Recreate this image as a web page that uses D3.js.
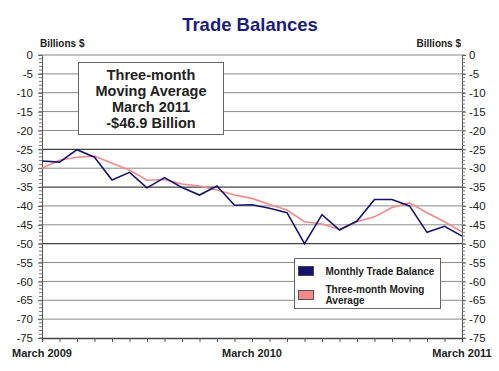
<!DOCTYPE html>
<html>
<head>
<meta charset="utf-8">
<script src="https://cdn.jsdelivr.net/npm/d3@7"></script>
<style>
  body { margin: 0; background: #fff; }
  svg { font-family: "Liberation Sans", Arial, sans-serif; }
</style>
</head>
<body>
<div id="chart"></div>
<script>
// months from March 2009 to March 2011
const months = d3.range(25);
const xLabels = [
  { i: 0, text: 'March 2009' },
  { i: 12, text: 'March 2010' },
  { i: 24, text: 'March 2011' }
];

// billions of dollars
const monthly = [
  -28.1, -28.4, -25.1, -27.1, -33.1, -31.1, -35.2, -32.5, -35.1, -37.1,
  -34.7, -39.8, -39.7, -40.6, -41.8, -50.0, -42.3, -46.4, -44.0, -38.3,
  -38.3, -40.0, -47.0, -45.4, -48.0
];
const movingAvg = [
  -30.0, -27.9, -27.1, -26.8, -28.7, -30.5, -33.2, -33.0, -34.2, -34.7,
  -35.8, -37.1, -38.0, -39.6, -41.1, -44.2, -44.8, -46.2, -44.2, -42.9,
  -40.4, -39.2, -41.8, -44.2, -46.9
];

const yTicks = d3.range(0, -80, -5);
const darkGrid = [-25, -35, -50];

const noteLines = ['Three-month', 'Moving Average', 'March 2011', '-$46.9 Billion'];
const legendItems = [
  { lines: ['Monthly Trade Balance'], color: '#14146e' },
  { lines: ['Three-month Moving', 'Average'], color: '#f28a8a' }
];

const width = 499, height = 371;
const margin = { top: 55, right: 37, bottom: 33, left: 42 };

const svg = d3.select('#chart').append('svg')
  .attr('width', width)
  .attr('height', height);

const x = d3.scaleLinear()
  .domain([0, 24])
  .range([margin.left, width - margin.right]);

const y = d3.scaleLinear()
  .domain([0, -75])
  .range([margin.top, height - margin.bottom]);

// title
svg.append('text')
  .attr('x', 250)
  .attr('y', 31)
  .attr('text-anchor', 'middle')
  .attr('font-size', '18.5px')
  .attr('font-weight', 'bold')
  .attr('fill', '#1c1c7e')
  .text('Trade Balances');

svg.append('text')
  .attr('x', 40).attr('y', 47)
  .attr('font-size', '10px').attr('font-weight', 'bold').attr('fill', '#222')
  .text('Billions $');

svg.append('text')
  .attr('x', 461).attr('y', 47)
  .attr('text-anchor', 'end')
  .attr('font-size', '10px').attr('font-weight', 'bold').attr('fill', '#222')
  .text('Billions $');

// gridlines
svg.append('g')
  .selectAll('line')
  .data(yTicks.filter(d => d > -75))
  .join('line')
  .attr('x1', x(0)).attr('x2', x(24))
  .attr('y1', d => y(d)).attr('y2', d => y(d))
  .attr('stroke', d => darkGrid.includes(d) ? '#444' : '#8a8a8a')
  .attr('stroke-width', d => darkGrid.includes(d) ? 1.3 : 1);

// axes (plain hyphen for negatives, like the original)
const fmt = d => String(d);
const leftAxis = d3.axisLeft(y).tickValues(yTicks).tickSize(4).tickFormat(fmt);
const rightAxis = d3.axisRight(y).tickValues(yTicks).tickSize(4).tickFormat(fmt);
const minor = d3.range(0, -76, -1);

function styleAxis(g) {
  g.select('.domain').attr('stroke', '#555');
  g.selectAll('.tick line').attr('stroke', '#555');
  g.selectAll('.tick text')
    .attr('font-size', '11.5px')
    .attr('fill', '#222')
    .attr('font-family', '"Liberation Sans", Arial, sans-serif');
}

const gl = svg.append('g')
  .attr('transform', `translate(${x(0)},0)`)
  .call(leftAxis)
  .call(styleAxis);
gl.selectAll('.tick text').attr('x', -9);
gl.append('g').selectAll('line')
  .data(minor)
  .join('line')
  .attr('x1', -3).attr('x2', 0)
  .attr('y1', d => y(d)).attr('y2', d => y(d))
  .attr('stroke', '#777');

const gr = svg.append('g')
  .attr('transform', `translate(${x(24)},0)`)
  .call(rightAxis)
  .call(styleAxis);
gr.selectAll('.tick text').attr('x', 7);
gr.append('g').selectAll('line')
  .data(minor)
  .join('line')
  .attr('x1', 0).attr('x2', 3)
  .attr('y1', d => y(d)).attr('y2', d => y(d))
  .attr('stroke', '#777');

const bottomAxis = d3.axisBottom(x).tickValues(months).tickSize(4).tickFormat('');
const gb = svg.append('g')
  .attr('transform', `translate(0,${y(-75)})`)
  .call(bottomAxis);
gb.select('.domain').attr('stroke', '#444').attr('stroke-width', 1.3);
gb.selectAll('.tick line').attr('stroke', '#555');

svg.append('g')
  .selectAll('text')
  .data(xLabels)
  .join('text')
  .attr('x', d => x(d.i))
  .attr('y', 357)
  .attr('text-anchor', 'middle')
  .attr('font-size', '11px')
  .attr('font-weight', 'bold')
  .attr('fill', '#222')
  .text(d => d.text);

// lines
const line = d3.line()
  .x((d, i) => x(i))
  .y(d => y(d));

svg.append('path')
  .datum(movingAvg)
  .attr('d', line)
  .attr('fill', 'none')
  .attr('stroke', '#f28a8a')
  .attr('stroke-width', 1.6);

svg.append('path')
  .datum(monthly)
  .attr('d', line)
  .attr('fill', 'none')
  .attr('stroke', '#14146e')
  .attr('stroke-width', 1.6);

// annotation box
const note = svg.append('g');
note.append('rect')
  .attr('x', 78.5).attr('y', 62.5)
  .attr('width', 145).attr('height', 72)
  .attr('fill', '#fff')
  .attr('stroke', '#666');
note.selectAll('text')
  .data(noteLines)
  .join('text')
  .attr('x', 151)
  .attr('y', (d, i) => 80 + i * 15.9)
  .attr('text-anchor', 'middle')
  .attr('font-size', '14.5px')
  .attr('font-weight', 'bold')
  .attr('fill', '#222')
  .text(d => d);

// legend
const legend = svg.append('g');
legend.append('rect')
  .attr('x', 294.5).attr('y', 258.5)
  .attr('width', 146).attr('height', 50)
  .attr('fill', '#fff')
  .attr('stroke', '#666');

const item = legend.selectAll('g')
  .data(legendItems)
  .join('g')
  .attr('transform', (d, i) => `translate(298.5,${266.5 + i * 24})`);

item.append('rect')
  .attr('width', 15).attr('height', 9)
  .attr('fill', d => d.color)
  .attr('stroke', '#333')
  .attr('stroke-width', 0.8);

item.each(function(d) {
  const n = d.lines.length;
  d3.select(this).selectAll('text')
    .data(d.lines)
    .join('text')
    .attr('x', 27)
    .attr('y', (t, j) => 8 + (j - (n - 1) / 2) * 11)
    .attr('font-size', '10px')
    .attr('font-weight', 'bold')
    .attr('fill', '#222')
    .text(t => t);
});
</script>
</body>
</html>
